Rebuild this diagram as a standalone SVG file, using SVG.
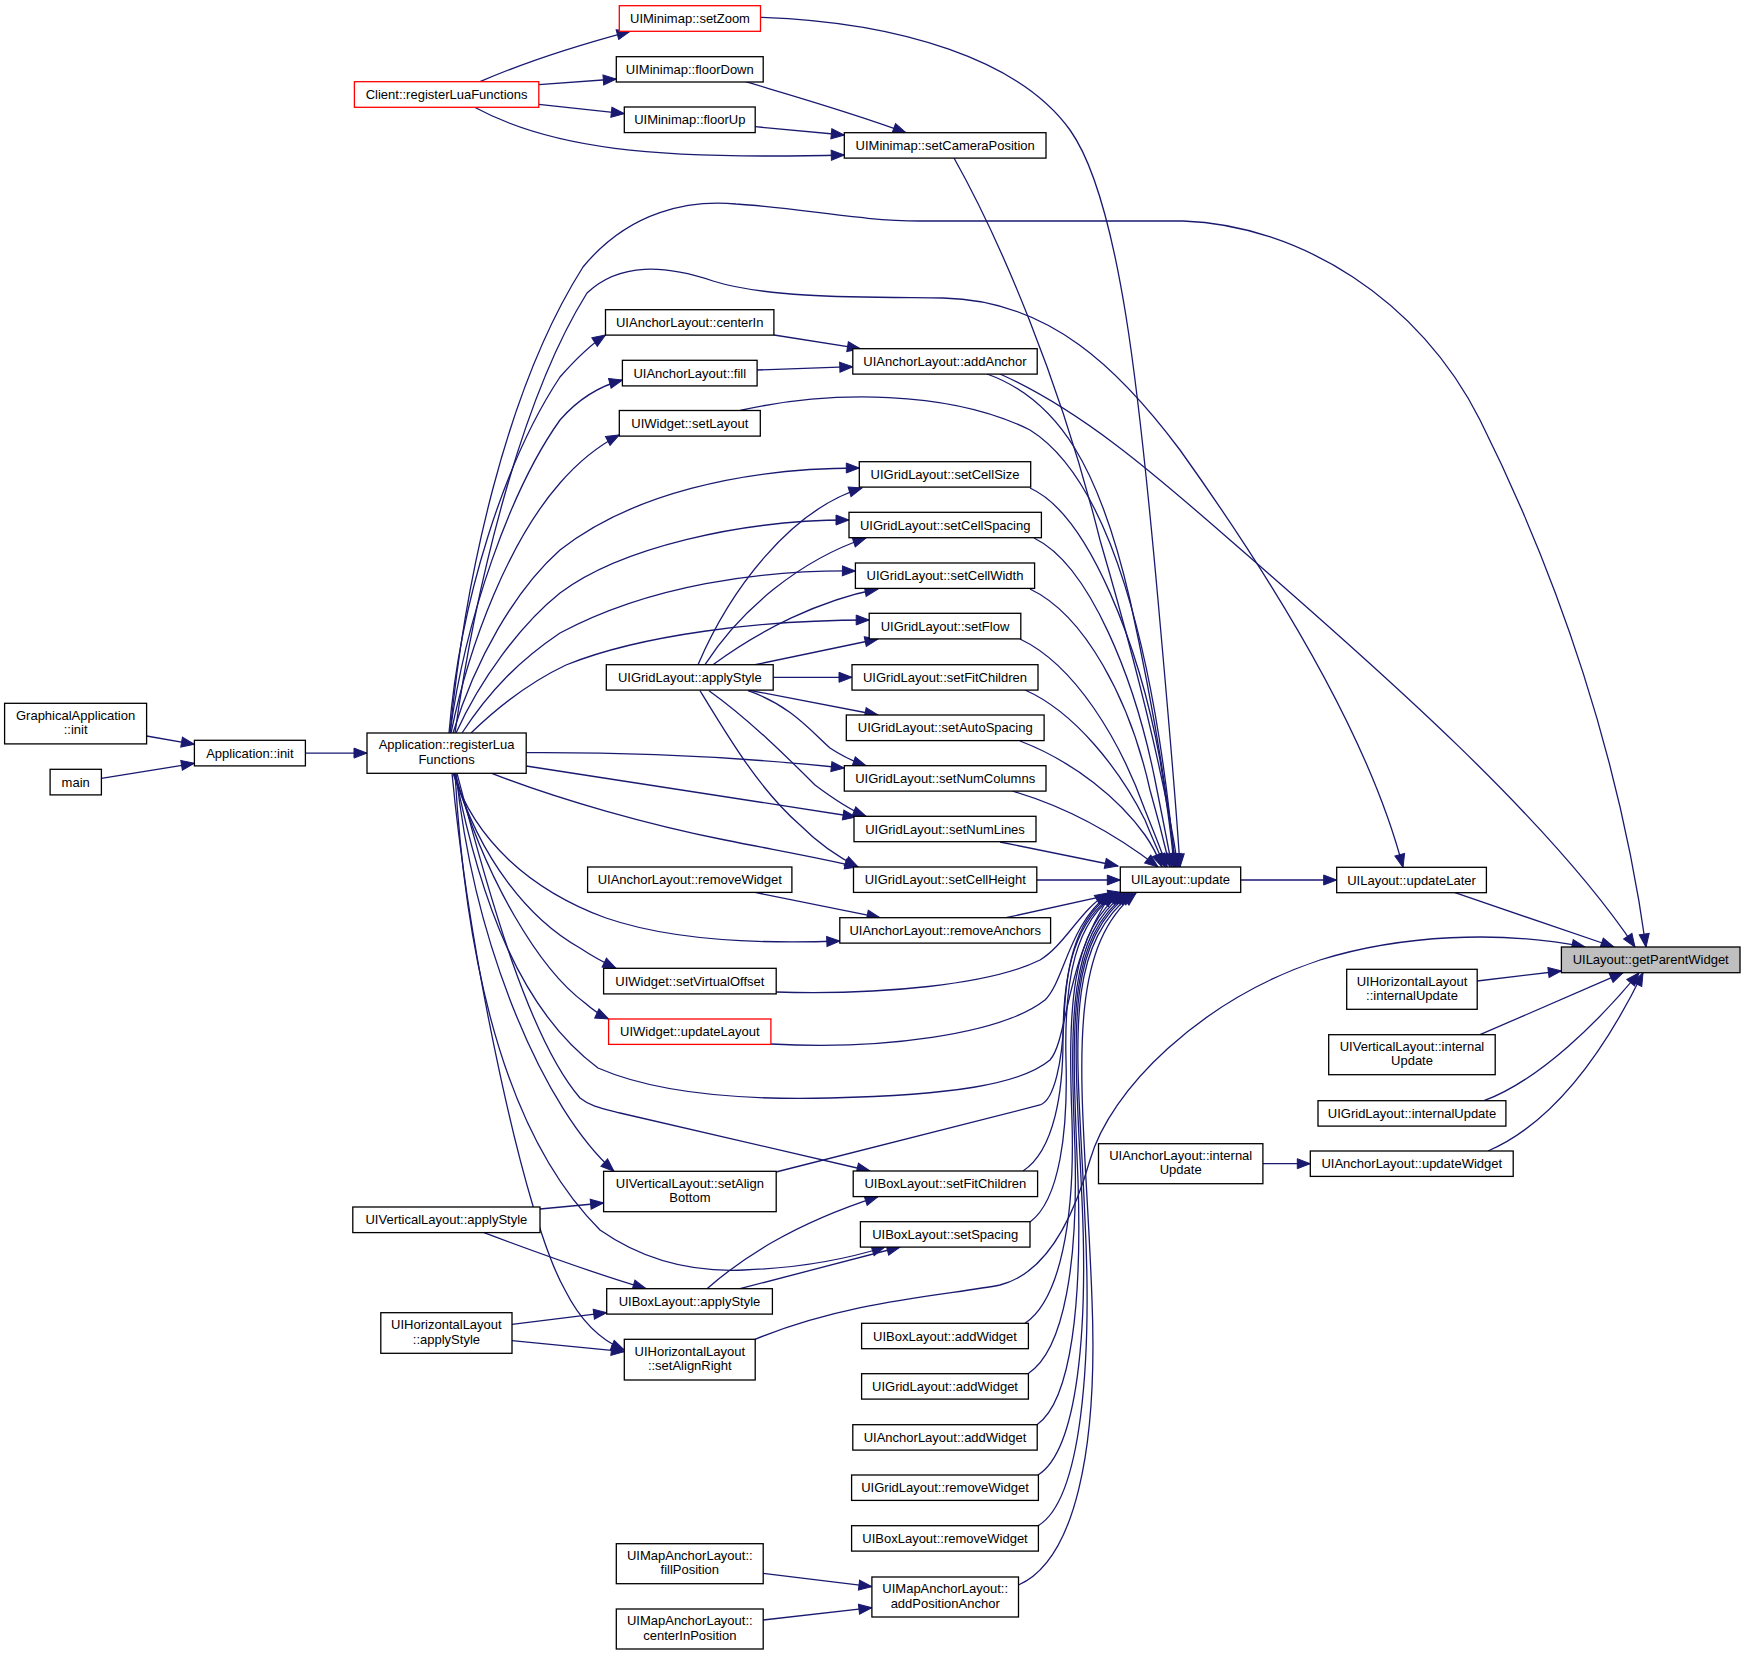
<svg xmlns="http://www.w3.org/2000/svg" width="1745" height="1655" viewBox="0 0 1745 1655">
<style>
.n rect{fill:#fff;stroke:#000;stroke-width:1.3}
.n.r rect{stroke:#ff0000}
.n.g rect{fill:#bfbfbf}
.n text{font-family:"Liberation Sans",Arial,sans-serif;font-size:13px;fill:#000;text-anchor:middle}
#edges path{fill:none;stroke:#191970;stroke-width:1.3;marker-end:url(#a)}
</style>
<defs>
<marker id="a" markerUnits="userSpaceOnUse" markerWidth="14" markerHeight="11" refX="13" refY="5" orient="auto" overflow="visible">
<path d="M0,0 L13,5 L0,10 Z" fill="#191970" stroke="#191970" stroke-width="1"/>
</marker>
</defs>
<rect width="1745" height="1655" fill="#fff"/>
<g id="edges">
<path d="M480,81.7 C525,62 575,46 630,31.3"/>
<path d="M538.8,84.7 L616.3,79"/>
<path d="M538.8,104.3 L624.3,113.7"/>
<path d="M474.6,107.3 C550,148 650,160 844.3,155"/>
<path d="M745.6,81.7 C790,95 850,112 906,132.7"/>
<path d="M755.2,126.7 L844.3,135"/>
<path d="M954,158 C1000,240 1060,380 1100,540 C1135,660 1165,780 1178,867"/>
<path d="M760.5,17.3 C900,22 1020,60 1070,130 C1120,200 1140,400 1158,600 C1167,700 1176,800 1180,867"/>
<path d="M774,335 L860.4,348.7"/>
<path d="M757,370 L852.8,366.7"/>
<path d="M987,374 C1060,400 1100,470 1130,600 C1152,700 1168,800 1176,867"/>
<path d="M1000,374 C1080,410 1150,470 1230,540 C1380,670 1550,820 1635,947"/>
<path d="M740,410.5 C830,390 950,390 1030,430 C1110,480 1155,650 1175,867"/>
<path d="M1030,488 C1090,515 1140,650 1160,760 C1168,810 1172,840 1174,867"/>
<path d="M1034,538 C1090,565 1135,680 1155,780 C1163,820 1168,845 1172,867"/>
<path d="M1030,589 C1085,615 1130,700 1150,790 C1160,825 1166,850 1170,867"/>
<path d="M1020,639 C1075,665 1120,740 1145,810 C1155,835 1162,852 1167,867"/>
<path d="M1025,690 C1075,712 1120,770 1145,820 C1153,840 1160,855 1165,867"/>
<path d="M1020,741 C1075,762 1120,800 1145,835 C1152,845 1158,857 1162,867"/>
<path d="M1012,791 C1060,805 1110,830 1158,867"/>
<path d="M1000,842 L1118,866"/>
<path d="M1036.8,880 L1120.3,880"/>
<path d="M1006,917.7 L1121,892.4"/>
<path d="M755,892.4 L880,917.7"/>
<path d="M776,992 C880,995 990,985 1040,960 C1065,945 1080,910 1108,893"/>
<path d="M771,1044 C880,1050 1000,1035 1045,1000 C1065,980 1068,925 1110,893"/>
<path d="M455,773.3 C480,900 520,1010 598,1068 C660,1095 750,1100 830,1098 C950,1095 1020,1085 1050,1060 C1068,1040 1065,960 1112,893"/>
<path d="M776,1172 L1040,1105 C1055,1100 1062,1060 1064,1020 C1066,960 1078,915 1114,893"/>
<path d="M1023,1171 C1055,1150 1063,1090 1063,1040 C1063,970 1075,920 1116,893"/>
<path d="M1030,1222 C1060,1200 1068,1130 1066,1060 C1064,980 1075,920 1118,893"/>
<path d="M1025,1323.3 C1060,1300 1075,1220 1072,1120 C1068,1010 1070,930 1122,893"/>
<path d="M1028,1373.7 C1065,1350 1078,1260 1075,1150 C1070,1020 1068,935 1125,893"/>
<path d="M1037,1424.7 C1072,1400 1082,1300 1078,1180 C1072,1030 1065,940 1128,893"/>
<path d="M1038,1475 C1078,1450 1088,1330 1082,1200 C1075,1040 1062,945 1130,893"/>
<path d="M1038,1525.7 C1082,1500 1092,1360 1085,1220 C1078,1050 1060,950 1133,893"/>
<path d="M1018.5,1585 C1075,1560 1098,1450 1092,1300 C1085,1100 1058,955 1136,893"/>
<path d="M1240.7,880 L1336.7,880"/>
<path d="M455,733 C475,590 520,400 587,293 C620,262 665,265 713,281 C770,299 870,297 943,298 C1050,300 1120,370 1180,450 C1280,590 1370,740 1403,867.3"/>
<path d="M450,733 C465,580 505,390 583,267 C630,210 690,200 736,204 C800,208 860,221 920,221 L1183,221 C1300,225 1420,300 1480,420 C1560,580 1620,760 1646,947"/>
<path d="M1455,892.7 L1614,947"/>
<path d="M1477.2,981 L1561.4,971"/>
<path d="M1480,1034.7 L1623,972.7"/>
<path d="M1484,1100.7 C1540,1080 1600,1020 1639,972.7"/>
<path d="M1488,1151 C1560,1120 1610,1040 1643,972.7"/>
<path d="M1262.9,1163.7 L1310.3,1163.7"/>
<path d="M755,1339.3 C850,1300 950,1295 1000,1285 C1040,1275 1070,1230 1090,1160 C1110,1090 1200,1000 1320,960 C1400,935 1500,930 1585,947"/>
<path d="M146.6,736 L194.4,744.3"/>
<path d="M101.4,778.3 L194.4,763.3"/>
<path d="M305.4,753.1 L367,753.1"/>
<path d="M449,733 C460,600 505,460 560,377 C575,360 590,345 605.5,335"/>
<path d="M450,733 C465,620 510,490 560,420 C580,397 600,386 622.4,380"/>
<path d="M451,733 C470,640 510,540 560,483 C580,460 600,445 619.3,435"/>
<path d="M453,733 C475,660 515,590 560,550 C630,495 740,468 859.3,468"/>
<path d="M456,733 C480,680 520,625 560,593 C620,548 740,520 849,520"/>
<path d="M462,733 C490,690 520,660 560,633 C650,585 760,570 855.4,571"/>
<path d="M471,733 C500,705 530,682 566,665 C640,635 760,620 869.2,620"/>
<path d="M526.2,752.7 C650,752 750,758 844.3,768"/>
<path d="M526.2,766 L856,817"/>
<path d="M491.8,773.3 C560,800 650,825 725,840 C780,851 820,858 858,867"/>
<path d="M453,773.3 C475,840 530,890 606,918 C670,940 760,944 839.8,941"/>
<path d="M454,773.3 C480,860 530,920 580,948 C595,958 605,963 616,968.3"/>
<path d="M455,773.3 C485,880 540,970 585,1003 C593,1010 598,1014 608.6,1019"/>
<path d="M457,773.3 C490,900 530,1040 580,1098 C590,1106 600,1108 620,1113 L870,1171"/>
<path d="M456,773.3 C475,950 545,1110 614,1171.3"/>
<path d="M455,773.3 C465,950 500,1130 600,1230 C650,1265 700,1272 744,1270 C800,1268 850,1258 885,1247"/>
<path d="M452,773.3 C470,960 525,1220 565,1290 C580,1320 600,1340 624.3,1350"/>
<path d="M698,664.7 C730,590 790,510 862,488"/>
<path d="M705,664.7 C740,610 800,560 866,538"/>
<path d="M713,664.7 C760,630 820,600 878,589"/>
<path d="M755,664.7 L878,639"/>
<path d="M773.2,677.3 L852,677.3"/>
<path d="M748,690 L878,715"/>
<path d="M748,690.7 C790,705 810,730 830,748 C845,758 855,762 866,765.7"/>
<path d="M709,690.7 C750,720 790,760 815,785 C835,800 850,810 866,816.3"/>
<path d="M700,690.7 C730,740 760,790 800,825 C820,845 840,858 858,867"/>
<path d="M540,1209 L603.6,1203"/>
<path d="M484,1232.7 C530,1250 590,1272 646,1288.7"/>
<path d="M512,1324.3 L606.7,1312.7"/>
<path d="M512,1340.7 L624.3,1351.7"/>
<path d="M707,1288.7 C740,1260 790,1225 878,1196.6"/>
<path d="M740,1288.7 L900,1247"/>
<path d="M763.2,1573.3 L871.9,1586.7"/>
<path d="M763.2,1620 L871.9,1607.7"/>
</g>
<g id="n_setZoom" class="n r"><rect x="619.3" y="5.7" width="141.2" height="25.6"/><text x="690" y="23">UIMinimap::setZoom</text></g>
<g id="n_floorDown" class="n"><rect x="616.3" y="56.7" width="146.9" height="25.3"/><text x="689.8" y="73.8">UIMinimap::floorDown</text></g>
<g id="n_clientRegisterLuaFunctions" class="n r"><rect x="354.4" y="81.7" width="184.4" height="25.6"/><text x="446.6" y="99">Client::registerLuaFunctions</text></g>
<g id="n_floorUp" class="n"><rect x="624.3" y="107" width="130.9" height="25.6"/><text x="689.8" y="124.3">UIMinimap::floorUp</text></g>
<g id="n_setCameraPosition" class="n"><rect x="844.3" y="132.7" width="201.7" height="25.4"/><text x="945.2" y="149.9">UIMinimap::setCameraPosition</text></g>
<g id="n_centerIn" class="n"><rect x="605.5" y="309.7" width="168.4" height="25.4"/><text x="689.7" y="326.9">UIAnchorLayout::centerIn</text></g>
<g id="n_addAnchor" class="n"><rect x="852.8" y="348.7" width="184.4" height="25.4"/><text x="945" y="365.9">UIAnchorLayout::addAnchor</text></g>
<g id="n_fill" class="n"><rect x="622.4" y="360.3" width="134.7" height="25.6"/><text x="689.8" y="377.6">UIAnchorLayout::fill</text></g>
<g id="n_setLayout" class="n"><rect x="619.3" y="410.5" width="141" height="25.6"/><text x="689.8" y="427.8">UIWidget::setLayout</text></g>
<g id="n_setCellSize" class="n"><rect x="859.3" y="461.7" width="171.4" height="25.4"/><text x="945" y="478.9">UIGridLayout::setCellSize</text></g>
<g id="n_setCellSpacing" class="n"><rect x="849" y="512.3" width="192.4" height="25.4"/><text x="945.2" y="529.5">UIGridLayout::setCellSpacing</text></g>
<g id="n_setCellWidth" class="n"><rect x="855.4" y="563" width="179.2" height="25.4"/><text x="945" y="580.2">UIGridLayout::setCellWidth</text></g>
<g id="n_setFlow" class="n"><rect x="869.2" y="613.3" width="151.6" height="25.6"/><text x="945" y="630.6">UIGridLayout::setFlow</text></g>
<g id="n_gridApplyStyle" class="n"><rect x="606.3" y="664.7" width="166.9" height="25.4"/><text x="689.8" y="681.9">UIGridLayout::applyStyle</text></g>
<g id="n_gridSetFitChildren" class="n"><rect x="852" y="664.7" width="186" height="25.4"/><text x="945" y="681.9">UIGridLayout::setFitChildren</text></g>
<g id="n_setAutoSpacing" class="n"><rect x="846.3" y="715" width="197.8" height="25.6"/><text x="945.2" y="732.3">UIGridLayout::setAutoSpacing</text></g>
<g id="n_graphicalApplicationInit" class="n"><rect x="4.6" y="703.3" width="142" height="40.6"/><text x="75.6" y="719.8">GraphicalApplication</text><text x="75.6" y="734.2">::init</text></g>
<g id="n_applicationInit" class="n"><rect x="194.4" y="740.3" width="111" height="25.6"/><text x="249.9" y="757.6">Application::init</text></g>
<g id="n_applicationRegisterLuaFunctions" class="n"><rect x="367" y="733" width="159.2" height="40.3"/><text x="446.6" y="749.3">Application::registerLua</text><text x="446.6" y="763.7">Functions</text></g>
<g id="n_main" class="n"><rect x="50.1" y="769.3" width="51.3" height="25.6"/><text x="75.7" y="786.6">main</text></g>
<g id="n_setNumColumns" class="n"><rect x="844.3" y="765.7" width="201.7" height="25.4"/><text x="945.2" y="782.9">UIGridLayout::setNumColumns</text></g>
<g id="n_setNumLines" class="n"><rect x="854" y="816.3" width="182" height="25.4"/><text x="945" y="833.5">UIGridLayout::setNumLines</text></g>
<g id="n_anchorRemoveWidget" class="n"><rect x="587.6" y="867" width="204.3" height="25.4"/><text x="689.8" y="884.2">UIAnchorLayout::removeWidget</text></g>
<g id="n_setCellHeight" class="n"><rect x="853.5" y="867" width="183.3" height="25.4"/><text x="945.2" y="884.2">UIGridLayout::setCellHeight</text></g>
<g id="n_update" class="n"><rect x="1120.3" y="867" width="120.4" height="25.4"/><text x="1180.5" y="884.2">UILayout::update</text></g>
<g id="n_updateLater" class="n"><rect x="1336.7" y="867.3" width="149.7" height="25.4"/><text x="1411.5" y="884.5">UILayout::updateLater</text></g>
<g id="n_removeAnchors" class="n"><rect x="839.8" y="917.7" width="210.8" height="25.4"/><text x="945.2" y="934.9">UIAnchorLayout::removeAnchors</text></g>
<g id="n_getParentWidget" class="n g"><rect x="1561.4" y="947" width="178.6" height="25.7"/><text x="1650.7" y="964.3">UILayout::getParentWidget</text></g>
<g id="n_horizontalInternalUpdate" class="n"><rect x="1346.7" y="969.3" width="130.5" height="40"/><text x="1412" y="985.5">UIHorizontalLayout</text><text x="1412" y="999.9">::internalUpdate</text></g>
<g id="n_setVirtualOffset" class="n"><rect x="603.6" y="968.3" width="172.6" height="25.6"/><text x="689.9" y="985.6">UIWidget::setVirtualOffset</text></g>
<g id="n_updateLayout" class="n r"><rect x="608.6" y="1019" width="162.3" height="25.4"/><text x="689.8" y="1036.2">UIWidget::updateLayout</text></g>
<g id="n_verticalInternalUpdate" class="n"><rect x="1328.7" y="1034.7" width="166.5" height="40"/><text x="1412" y="1050.9">UIVerticalLayout::internal</text><text x="1412" y="1065.3">Update</text></g>
<g id="n_gridInternalUpdate" class="n"><rect x="1318" y="1100.7" width="187.9" height="25.4"/><text x="1412" y="1117.9">UIGridLayout::internalUpdate</text></g>
<g id="n_anchorInternalUpdate" class="n"><rect x="1098.5" y="1143.7" width="164.4" height="40"/><text x="1180.7" y="1159.9">UIAnchorLayout::internal</text><text x="1180.7" y="1174.3">Update</text></g>
<g id="n_updateWidget" class="n"><rect x="1310.3" y="1151" width="202.9" height="25.4"/><text x="1411.8" y="1168.2">UIAnchorLayout::updateWidget</text></g>
<g id="n_setAlignBottom" class="n"><rect x="603.6" y="1171.3" width="172.6" height="40.4"/><text x="689.9" y="1187.7">UIVerticalLayout::setAlign</text><text x="689.9" y="1202.1">Bottom</text></g>
<g id="n_boxSetFitChildren" class="n"><rect x="853.2" y="1171" width="184.4" height="25.6"/><text x="945.4" y="1188.3">UIBoxLayout::setFitChildren</text></g>
<g id="n_verticalApplyStyle" class="n"><rect x="352.8" y="1207" width="187.2" height="25.6"/><text x="446.4" y="1224.3">UIVerticalLayout::applyStyle</text></g>
<g id="n_setSpacing" class="n"><rect x="860.4" y="1221.7" width="169.6" height="25.4"/><text x="945.2" y="1238.9">UIBoxLayout::setSpacing</text></g>
<g id="n_boxApplyStyle" class="n"><rect x="606.7" y="1288.7" width="165.7" height="25.4"/><text x="689.5" y="1305.9">UIBoxLayout::applyStyle</text></g>
<g id="n_horizontalApplyStyle" class="n"><rect x="380.8" y="1312.7" width="131.2" height="40.6"/><text x="446.4" y="1329.2">UIHorizontalLayout</text><text x="446.4" y="1343.6">::applyStyle</text></g>
<g id="n_setAlignRight" class="n"><rect x="624.3" y="1339.3" width="130.9" height="40.7"/><text x="689.8" y="1355.8">UIHorizontalLayout</text><text x="689.8" y="1370.2">::setAlignRight</text></g>
<g id="n_boxAddWidget" class="n"><rect x="861.6" y="1323.3" width="166.8" height="25.4"/><text x="945" y="1340.5">UIBoxLayout::addWidget</text></g>
<g id="n_gridAddWidget" class="n"><rect x="861.6" y="1373.7" width="166.8" height="25.4"/><text x="945" y="1390.9">UIGridLayout::addWidget</text></g>
<g id="n_anchorAddWidget" class="n"><rect x="852.8" y="1424.7" width="184.4" height="25.4"/><text x="945" y="1441.9">UIAnchorLayout::addWidget</text></g>
<g id="n_gridRemoveWidget" class="n"><rect x="851.6" y="1475" width="186.8" height="25.4"/><text x="945" y="1492.2">UIGridLayout::removeWidget</text></g>
<g id="n_boxRemoveWidget" class="n"><rect x="851.6" y="1525.7" width="186.8" height="25.4"/><text x="945" y="1542.9">UIBoxLayout::removeWidget</text></g>
<g id="n_fillPosition" class="n"><rect x="616.3" y="1543.7" width="146.9" height="40"/><text x="689.8" y="1559.9">UIMapAnchorLayout::</text><text x="689.8" y="1574.3">fillPosition</text></g>
<g id="n_addPositionAnchor" class="n"><rect x="871.9" y="1577" width="146.6" height="40"/><text x="945.2" y="1593.2">UIMapAnchorLayout::</text><text x="945.2" y="1607.6">addPositionAnchor</text></g>
<g id="n_centerInPosition" class="n"><rect x="616.3" y="1609" width="146.9" height="40"/><text x="689.8" y="1625.2">UIMapAnchorLayout::</text><text x="689.8" y="1639.6">centerInPosition</text></g>
</svg>
